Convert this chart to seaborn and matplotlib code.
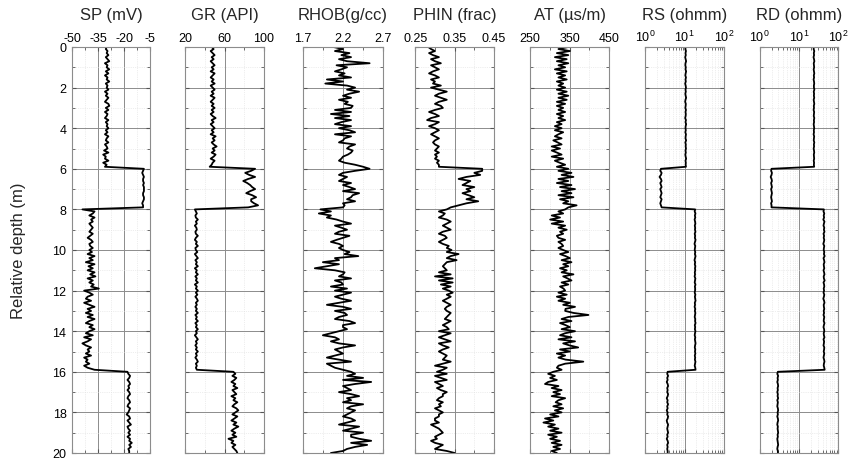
import numpy as np
import pandas as pd
import matplotlib
matplotlib.use("Agg")
import matplotlib.pyplot as plt
import seaborn as sns
from matplotlib.ticker import AutoMinorLocator, MultipleLocator, LogLocator, NullFormatter

# depth grid, 0.1 m sampling
depth = np.round(np.arange(0, 201) * 0.1, 1)

sp = [-30, -30.5, -29.5, -30, -29, -30.5, -29.5, -28.5, -31, -29.5,
      -30, -28.5, -30.5, -29, -31, -29.5, -30, -28.5, -30.5, -29.5,
      -30, -29, -31, -29.5, -30.5, -29, -30, -31, -29, -28.5,
      -30.5, -29, -31, -29.5, -30, -31, -29, -30.5, -29.5, -30,
      -29, -30.5, -29.5, -31, -29, -30, -30.5, -29, -31, -30,
      -29.5, -31.5, -29, -32, -30.5, -31, -29, -32, -30, -31,
      -8.5, -9, -9.5, -9, -8.5, -9, -9, -8.5, -9, -8.5,
      -8.5, -8.5, -9, -9, -8.5, -8.5, -9, -9.5, -9, -9,
      -44, -37, -38, -40, -37, -39, -38, -40, -39, -38,
      -39, -40, -38, -39.5, -41, -39, -38, -40, -39.5, -38,
      -40, -38.5, -41, -37, -40, -38, -42, -37, -40.5, -38,
      -41, -37, -39.5, -36.5, -41, -38, -40, -37.5, -39, -34.5,
      -43, -40, -38, -41, -42, -39, -43, -40, -37, -41,
      -39, -42, -38, -41, -37, -40, -42, -38, -40, -37,
      -40, -42, -38, -43, -39, -41, -44, -42, -39, -41,
      -40, -42, -39, -43, -41, -42, -40, -43, -41, -37,
      -18, -17.5, -16.5, -17, -18, -17, -16.5, -17.5, -17, -18,
      -17, -16.5, -17.5, -18, -17, -16.5, -17.5, -18, -16.5, -17,
      -17.5, -18.5, -17, -16.5, -18, -17, -16, -18, -17.5, -16.5,
      -17.5, -16.5, -18, -16.5, -17, -15.5, -17, -16, -17.5, -17,
      -17]

gr = [47, 49, 46, 48, 50, 47, 49, 46, 48, 50,
      47, 49, 46, 50, 48, 46, 49, 47, 50, 46,
      48, 50, 47, 49, 46, 50, 48, 46, 49, 47,
      50, 47, 49, 46, 48, 51, 47, 49, 46, 48,
      50, 47, 49, 46, 51, 48, 50, 47, 49, 52,
      48, 50, 47, 51, 49, 46, 50, 48, 47, 45,
      91, 87, 81, 85, 91, 84, 79, 83, 86, 88,
      91, 86, 82, 88, 92, 87, 87, 90, 94, 84,
      30, 31, 32, 30.5, 31, 33, 31, 32, 30, 31.5,
      32, 30.5, 31, 33, 31, 30, 32, 31, 33, 30.5,
      31, 32.5, 30, 31.5, 33, 30.5, 32, 31, 33, 30,
      32, 31, 33, 30.5, 32, 31, 33, 30, 32, 31,
      33, 31, 32.5, 30.5, 32, 33, 31, 32, 30.5, 32,
      31, 33, 30.5, 32, 31, 33, 30.5, 32, 31, 33,
      31, 32, 30, 31.5, 33, 31, 32, 30.5, 32, 31,
      33, 31, 32, 30.5, 32, 33, 31, 32, 31, 32,
      69, 71, 68, 72, 70, 67, 71, 69, 73, 68,
      70, 72, 67, 71, 69, 73, 70, 68, 72, 74,
      71, 68, 73, 70, 67, 72, 69, 74, 70, 67,
      71, 68, 72, 64, 69, 67, 71, 68, 70, 72,
      73]

rhob = [2.08, 2.20, 2.10, 2.28, 2.18, 2.30, 2.15, 2.25, 2.53, 2.12,
        2.25, 2.18, 2.10, 2.22, 2.15, 2.30, 2.00, 2.20, 1.98, 2.25,
        2.35, 2.25, 2.40, 2.28, 2.20, 2.30, 2.15, 2.26, 2.22, 2.32,
        2.30, 2.10, 2.30, 2.05, 2.28, 2.10, 2.30, 2.18, 2.10, 2.30,
        2.15, 2.28, 2.35, 2.10, 2.30, 2.22, 2.20, 2.15, 2.35, 2.28,
        2.25, 2.32, 2.30, 2.26, 2.20, 2.18, 2.15, 2.22, 2.35, 2.45,
        2.53, 2.35, 2.20, 2.15, 2.25, 2.20, 2.15, 2.30, 2.20, 2.28,
        2.35, 2.20, 2.40, 2.32, 2.30, 2.25, 2.35, 2.20, 2.22, 2.20,
        1.92, 2.05, 1.90, 2.05, 2.00, 2.12, 2.20, 2.30, 2.10, 2.18,
        2.25, 2.15, 2.10, 2.28, 2.20, 2.12, 2.05, 2.15, 2.20, 2.15,
        2.20, 2.28, 2.22, 2.39, 2.10, 2.15, 1.95, 2.15, 2.00, 1.85,
        2.10, 2.22, 2.20, 2.15, 2.30, 2.10, 2.18, 2.20, 2.05, 2.25,
        2.10, 2.30, 2.20, 2.10, 2.18, 2.30, 2.15, 2.00, 2.20, 2.30,
        2.10, 2.22, 2.25, 2.15, 2.10, 2.28, 2.35, 2.20, 2.20, 2.25,
        2.15, 2.05, 1.95, 2.10, 2.15, 2.05, 2.15, 2.35, 2.20, 2.10,
        2.15, 2.20, 2.10, 2.00, 2.15, 2.30, 2.00, 2.05, 2.10, 2.20,
        2.30, 2.35, 2.25, 2.45, 2.20, 2.55, 2.35, 2.20, 2.25, 2.30,
        2.15, 2.30, 2.40, 2.25, 2.30, 2.20, 2.45, 2.30, 2.25, 2.35,
        2.30, 2.25, 2.20, 2.30, 2.35, 2.25, 2.15, 2.40, 2.30, 2.20,
        2.45, 2.30, 2.30, 2.40, 2.55, 2.30, 2.50, 2.35, 2.25, 2.20,
        2.05]

phin = [0.283, 0.29, 0.30, 0.285, 0.295, 0.31, 0.29, 0.30, 0.315, 0.29,
        0.30, 0.31, 0.295, 0.285, 0.30, 0.31, 0.29, 0.30, 0.295, 0.315,
        0.29, 0.31, 0.33, 0.31, 0.30, 0.315, 0.33, 0.31, 0.30, 0.315,
        0.32, 0.30, 0.285, 0.30, 0.31, 0.29, 0.28, 0.31, 0.30, 0.285,
        0.30, 0.31, 0.30, 0.29, 0.30, 0.31, 0.30, 0.295, 0.30, 0.31,
        0.305, 0.30, 0.31, 0.30, 0.305, 0.30, 0.31, 0.305, 0.31, 0.31,
        0.42, 0.42, 0.40, 0.415, 0.38, 0.36, 0.39, 0.38, 0.37, 0.40,
        0.38, 0.39, 0.37, 0.385, 0.40, 0.38, 0.41, 0.38, 0.36, 0.34,
        0.33, 0.31, 0.325, 0.32, 0.31, 0.33, 0.34, 0.33, 0.32, 0.33,
        0.34, 0.32, 0.31, 0.325, 0.33, 0.32, 0.31, 0.32, 0.335, 0.33,
        0.342, 0.33, 0.36, 0.34, 0.33, 0.355, 0.33, 0.325, 0.32, 0.325,
        0.33, 0.31, 0.34, 0.30, 0.345, 0.31, 0.345, 0.315, 0.34, 0.32,
        0.335, 0.345, 0.33, 0.34, 0.33, 0.32, 0.33, 0.34, 0.33, 0.325,
        0.33, 0.34, 0.335, 0.33, 0.325, 0.34, 0.33, 0.32, 0.33, 0.335,
        0.31, 0.34, 0.325, 0.31, 0.325, 0.34, 0.31, 0.32, 0.335, 0.32,
        0.31, 0.32, 0.33, 0.325, 0.32, 0.34, 0.32, 0.30, 0.33, 0.32,
        0.305, 0.33, 0.30, 0.315, 0.33, 0.30, 0.31, 0.32, 0.305, 0.315,
        0.33, 0.32, 0.32, 0.31, 0.305, 0.32, 0.31, 0.315, 0.30, 0.31,
        0.32, 0.31, 0.31, 0.30, 0.30, 0.31, 0.29, 0.30, 0.31, 0.315,
        0.32, 0.31, 0.30, 0.305, 0.29, 0.30, 0.32, 0.31, 0.30, 0.33,
        0.35]

at = [347, 322, 351, 318, 347, 313, 343, 318, 347, 322,
      339, 313, 343, 318, 339, 322, 343, 318, 334, 322,
      339, 318, 343, 322, 347, 322, 343, 318, 339, 318,
      334, 322, 339, 318, 334, 322, 339, 318, 330, 313,
      330, 313, 334, 322, 313, 330, 309, 320, 330, 305,
      326, 305, 318, 330, 305, 334, 313, 325, 339, 318,
      347, 322, 355, 330, 360, 322, 347, 318, 355, 326,
      364, 330, 355, 322, 360, 326, 347, 334, 368, 347,
      339, 322, 334, 305, 326, 301, 334, 305, 339, 322,
      343, 326, 334, 318, 322, 339, 322, 330, 334, 322,
      334, 347, 326, 340, 351, 330, 355, 334, 347, 326,
      343, 330, 360, 334, 345, 355, 330, 347, 326, 335,
      339, 322, 343, 318, 339, 322, 351, 334, 364, 340,
      339, 360, 398, 347, 330, 355, 326, 340, 351, 330,
      364, 339, 326, 355, 322, 364, 334, 350, 372, 326,
      351, 318, 339, 322, 340, 385, 339, 322, 318, 330,
      309, 296, 313, 301, 318, 296, 288, 322, 305, 330,
      309, 326, 305, 339, 322, 315, 330, 309, 334, 313,
      330, 301, 322, 288, 309, 284, 313, 296, 322, 301,
      330, 296, 318, 301, 326, 305, 330, 309, 326, 305,
      318]

rs = [10.6, 10.4, 10.8, 10.5, 10.7, 10.3, 10.6, 10.9, 10.5, 10.4,
      10.7, 10.5, 10.9, 10.6, 10.4, 10.8, 10.5, 10.7, 10.3, 10.6,
      10.8, 10.5, 10.7, 10.4, 10.6, 10.9, 10.5, 10.3, 10.7, 10.6,
      10.4, 10.8, 10.5, 10.7, 10.6, 10.3, 10.8, 10.5, 10.9, 10.6,
      10.5, 10.7, 10.4, 10.8, 10.6, 10.5, 10.9, 10.4, 10.7, 10.6,
      10.8, 10.5, 10.7, 10.4, 10.6, 10.9, 10.5, 10.7, 10.6, 10.8,
      2.5, 2.4, 2.6, 2.5, 2.3, 2.5, 2.6, 2.4, 2.5, 2.6,
      2.4, 2.5, 2.6, 2.5, 2.4, 2.6, 2.5, 2.4, 2.5, 2.6,
      18.5, 18.0, 18.8, 18.2, 18.6, 17.9, 18.4, 18.7, 18.1, 18.5,
      18.3, 18.8, 18.0, 18.5, 18.2, 18.9, 18.4, 17.8, 18.6, 18.3,
      18.0, 18.6, 18.2, 18.9, 18.4, 17.8, 18.5, 18.1, 18.7, 18.3,
      18.6, 18.1, 18.4, 17.9, 18.7, 18.3, 18.0, 18.8, 18.2, 18.5,
      18.4, 18.0, 18.7, 18.2, 18.5, 18.9, 18.1, 18.4, 17.9, 18.6,
      18.2, 18.7, 18.3, 18.0, 18.6, 18.4, 18.9, 18.1, 18.5, 18.2,
      18.8, 18.3, 18.0, 18.6, 18.2, 18.5, 18.9, 18.4, 18.1, 18.6,
      18.3, 18.7, 18.1, 18.5, 18.2, 18.8, 18.4, 18.0, 18.6, 18.9,
      3.7, 3.6, 3.8, 3.6, 3.7, 3.5, 3.7, 3.8, 3.6, 3.7,
      3.6, 3.8, 3.7, 3.5, 3.7, 3.6, 3.8, 3.6, 3.7, 3.5,
      3.7, 3.6, 3.8, 3.7, 3.5, 3.6, 3.8, 3.7, 3.6, 3.7,
      3.8, 3.6, 3.7, 3.5, 3.7, 3.8, 3.6, 3.7, 3.6, 3.7,
      3.7]

rd = [24.0, 23.5, 24.5, 23.8, 24.2, 23.4, 24.1, 24.6, 23.7, 24.0,
      24.3, 23.6, 24.0, 24.5, 23.8, 24.2, 23.5, 24.1, 24.4, 23.9,
      24.0, 24.6, 23.7, 24.2, 23.9, 24.4, 23.6, 24.0, 24.5, 23.8,
      24.1, 23.5, 24.3, 24.0, 23.7, 24.5, 23.9, 24.2, 23.6, 24.0,
      24.4, 23.8, 24.1, 23.5, 24.3, 24.0, 23.7, 24.5, 23.9, 24.2,
      23.6, 24.1, 24.4, 23.8, 24.0, 24.3, 23.7, 24.2, 23.9, 24.3,
      2.0, 1.95, 2.05, 2.0, 1.9, 2.0, 2.05, 1.95, 2.0, 2.05,
      1.95, 2.0, 2.05, 2.0, 1.95, 2.0, 2.05, 1.95, 2.0, 2.0,
      43, 42, 44, 42.5, 43.5, 41.5, 44.5, 43, 42, 44,
      43, 44.5, 42, 43.5, 42.5, 44, 43, 41.5, 44, 43,
      42.5, 44, 43, 45, 42, 43.5, 44.5, 42.5, 43, 44,
      42, 43.5, 44.5, 42.5, 43, 45, 42, 43.5, 44, 42.5,
      43.5, 42, 44, 43, 41.5, 43.5, 44.5, 42.5, 43, 44,
      42.5, 43.5, 42, 44, 43, 42.5, 44.5, 43, 42, 43.5,
      44, 42.5, 43, 44.5, 42, 43.5, 43, 42, 44, 43.5,
      42.5, 44, 43, 42, 43.5, 44.5, 43, 42.5, 44, 45,
      2.9, 2.8, 2.95, 2.85, 2.9, 2.8, 2.9, 2.95, 2.85, 2.9,
      2.8, 2.9, 2.85, 2.95, 2.8, 2.9, 2.85, 2.8, 2.9, 2.95,
      2.85, 2.9, 2.8, 2.9, 2.95, 2.85, 2.8, 2.9, 2.85, 2.9,
      2.95, 2.85, 2.9, 2.8, 2.85, 2.9, 2.95, 2.85, 2.8, 2.9,
      2.9]

titles = ["SP (mV)", "GR (API)", "RHOB(g/cc)", "PHIN (frac)", "AT (\u00b5s/m)", "RS (ohmm)", "RD (ohmm)"]
curves = [sp, gr, rhob, phin, at, rs, rd]
xlims = [(-50, -5), (20, 100), (1.7, 2.7), (0.25, 0.45), (250, 450), (1, 100), (1, 100)]
xticks = [[-50, -35, -20, -5], [20, 60, 100], [1.7, 2.2, 2.7], [0.25, 0.35, 0.45],
          [250, 350, 450], [1, 10, 100], [1, 10, 100]]
xticklabels = [["-50", "-35", "-20", "-5"], ["20", "60", "100"], ["1.7", "2.2", "2.7"],
               ["0.25", "0.35", "0.45"], ["250", "350", "450"],
               ["$10^0$", "$10^1$", "$10^2$"], ["$10^0$", "$10^1$", "$10^2$"]]
logscale = [False, False, False, False, False, True, True]

sns.set_style("white")
plt.rcParams["font.family"] = ["Liberation Sans", "DejaVu Sans"]
plt.rcParams["axes.unicode_minus"] = False
plt.rcParams["mathtext.default"] = "regular"

fig = plt.figure(figsize=(8.5, 4.64), dpi=100)

# pixel boxes of the tracks
lefts = [72, 185, 302.7, 415.3, 530, 645.3, 759.7]
widths = [78, 79, 80.6, 78.7, 79, 78.7, 78.6]

for i in range(7):
    ax = fig.add_axes([lefts[i] / 850, 10 / 464, widths[i] / 850, 406 / 464])
    if logscale[i]:
        ax.set_xscale("log")
    df = pd.DataFrame({"depth": depth, "value": curves[i]})
    sns.lineplot(data=df, x="value", y="depth", orient="y", sort=False, estimator=None,
                 color="black", lw=1.3, ax=ax)
    ax.set_xlim(*xlims[i])
    ax.set_ylim(20, 0)
    ax.set_xticks(xticks[i])
    ax.set_xticklabels(xticklabels[i])
    if logscale[i]:
        ax.xaxis.set_minor_locator(LogLocator(base=10, subs=range(2, 10)))
        ax.xaxis.set_minor_formatter(NullFormatter())
    else:
        ax.xaxis.set_minor_locator(AutoMinorLocator(2))
    ax.yaxis.set_major_locator(MultipleLocator(2))
    ax.yaxis.set_minor_locator(MultipleLocator(1))
    ax.tick_params(axis="both", which="both", direction="in", top=True, bottom=True,
                   left=True, right=True, labeltop=True, labelbottom=False,
                   labelleft=(i == 0), colors="#555555", labelcolor="black", labelsize=9)
    ax.tick_params(axis="x", which="major", pad=2, length=3)
    ax.tick_params(axis="y", which="major", pad=4, length=3)
    ax.tick_params(which="minor", length=2)
    ax.grid(which="major", color="#8c8c8c", lw=0.7)
    ax.grid(which="minor", color="#dedede", lw=0.5, ls=":")
    ax.set_axisbelow(True)
    for s in ax.spines.values():
        s.set_color("#8c8c8c")
        s.set_linewidth(0.8)
    ax.set_xlabel("")
    ax.set_ylabel("")
    ax.set_title(titles[i], fontsize=12, y=1.069, pad=0)
    if i == 0:
        ax.set_ylabel("Relative depth (m)", fontsize=12)
        ax.yaxis.set_label_coords(-0.59, 0.5)

fig.savefig("out.png", dpi=100)
